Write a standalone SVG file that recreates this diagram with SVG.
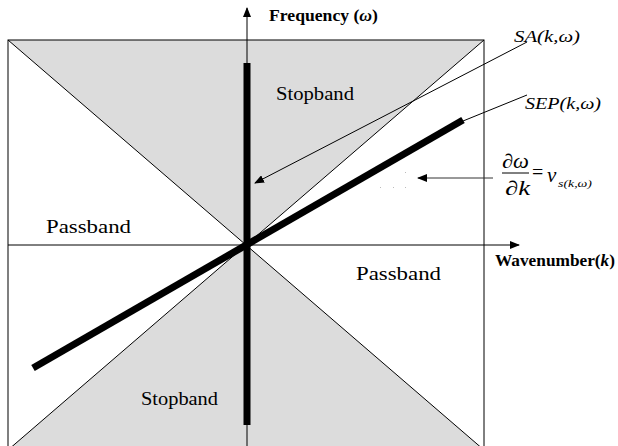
<svg xmlns="http://www.w3.org/2000/svg" width="618" height="446" viewBox="0 0 618 446">
<style>
.thin{stroke:#000;stroke-width:1;fill:none}
.thick{stroke:#000;stroke-width:7;fill:none}
.lbl{font-family:"Liberation Serif",serif;font-size:19px;fill:#000}
.it{font-family:"Liberation Serif",serif;font-style:italic;fill:#000}
.rm{font-family:"Liberation Serif",serif;fill:#000}
.bold{font-family:"Liberation Serif",serif;font-weight:bold;font-size:16px;fill:#000}
</style>
<defs>
<marker id="ah" markerWidth="10" markerHeight="8" refX="9" refY="4" orient="auto" markerUnits="userSpaceOnUse">
<path d="M0,0 L10,4 L0,8 Z" fill="#000"/>
</marker>
</defs>
<rect width="618" height="446" fill="#fff"/>
<g id="regions">
<polygon points="8,40 484,40 246,245" fill="#dcdcdc"/>
<polygon points="8,450 484,450 246,245" fill="#dcdcdc"/>
<rect x="8" y="40" width="476" height="410" class="thin"/>
<line x1="8" y1="40" x2="484" y2="450" class="thin"/>
<line x1="484" y1="40" x2="8" y2="450" class="thin"/>
</g>
<g id="connectors">
<line x1="247" y1="446" x2="247" y2="8" class="thin" marker-end="url(#ah)"/>
<line x1="8" y1="245" x2="519" y2="245" class="thin" marker-end="url(#ah)"/>
<line x1="527" y1="42" x2="255" y2="183" class="thin" marker-end="url(#ah)"/>
<line x1="527" y1="95" x2="463" y2="121" class="thin"/>
<line x1="493" y1="178" x2="418" y2="178" stroke="#333" stroke-width="1" marker-end="url(#ah)"/>
</g>
<g id="SA">
<line x1="247" y1="63" x2="247" y2="425" class="thick"/>
</g>
<g id="SEP">
<line x1="33" y1="368" x2="463" y2="120" class="thick"/>
</g>
<g id="dots" fill="#bbb">
<rect x="380" y="187" width="1" height="1"/>
<rect x="393" y="187" width="1" height="1"/>
<rect x="405" y="187" width="1" height="1"/>
<rect x="405" y="172" width="1" height="1"/>
</g>
<g id="labels">
<text class="bold" x="269" y="21" textLength="109" lengthAdjust="spacingAndGlyphs">Frequency (<tspan font-style="italic">ω</tspan>)</text>
<text class="bold" x="495" y="266" textLength="120" lengthAdjust="spacingAndGlyphs">Wavenumber(<tspan font-style="italic">k</tspan>)</text>
<text class="it" font-size="17" x="514" y="42" textLength="66" lengthAdjust="spacingAndGlyphs">SA(k,ω)</text>
<text class="it" font-size="17" x="525" y="109" textLength="76" lengthAdjust="spacingAndGlyphs">SEP(k,ω)</text>
<text class="lbl" x="276" y="100" textLength="78" lengthAdjust="spacingAndGlyphs">Stopband</text>
<text class="lbl" x="46" y="233" textLength="85" lengthAdjust="spacingAndGlyphs">Passband</text>
<text class="lbl" x="356" y="280" textLength="85" lengthAdjust="spacingAndGlyphs">Passband</text>
<text class="lbl" x="141" y="405" textLength="77" lengthAdjust="spacingAndGlyphs">Stopband</text>
</g>
<g id="formula">
<text class="rm" font-size="20" x="502" y="168" textLength="27" lengthAdjust="spacingAndGlyphs">∂<tspan font-style="italic">ω</tspan></text>
<line x1="502" y1="173" x2="529" y2="173" stroke="#000" stroke-width="1"/>
<text class="rm" font-size="20" x="505" y="195" textLength="25" lengthAdjust="spacingAndGlyphs">∂<tspan font-style="italic">k</tspan></text>
<text class="rm" font-size="20" x="532" y="179">=</text>
<text class="it" font-size="21" x="547" y="182">v</text>
<text class="it" font-size="10" x="558" y="187" textLength="34" lengthAdjust="spacingAndGlyphs">s(k,ω)</text>
</g>
</svg>
